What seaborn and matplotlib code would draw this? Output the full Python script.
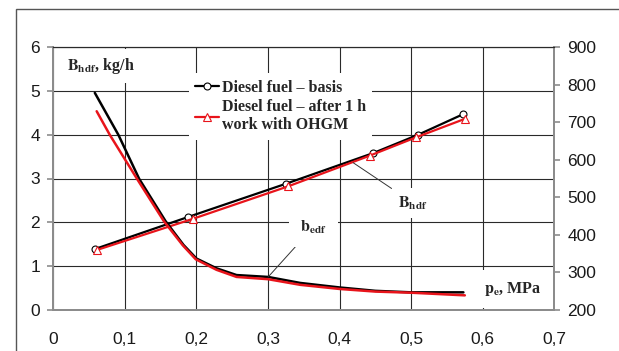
import matplotlib
matplotlib.use('Agg')
import matplotlib.pyplot as plt
import seaborn as sns
from matplotlib.lines import Line2D
from matplotlib.patches import Rectangle

# B_hdf, kg/h (left axis)
pe_basis = [0.058, 0.188, 0.325, 0.447, 0.510, 0.573]
B_basis = [1.39, 2.12, 2.88, 3.58, 4.00, 4.47]
pe_ohgm = [0.061, 0.195, 0.328, 0.442, 0.507, 0.575]
B_ohgm = [1.37, 2.08, 2.82, 3.52, 3.94, 4.36]

# b_edf, g/kWh (right axis)
pe_b_basis = [0.058, 0.091, 0.120, 0.157, 0.182, 0.200, 0.228, 0.256, 0.300, 0.345, 0.400, 0.450, 0.500, 0.573]
b_basis = [778, 666, 549, 436, 373, 337, 311, 293, 288, 272, 260, 251, 247, 247]
pe_b_ohgm = [0.0606, 0.079, 0.117, 0.1546, 0.181, 0.199, 0.228, 0.256, 0.300, 0.345, 0.400, 0.450, 0.500, 0.575]
b_ohgm = [729, 666, 549, 436, 372, 335, 307, 288, 282, 267, 256, 249, 246, 239]

x_ticks = [0, 0.1, 0.2, 0.3, 0.4, 0.5, 0.6, 0.7]
x_labels = ['0', '0,1', '0,2', '0,3', '0,4', '0,5', '0,6', '0,7']
left_ticks = [0, 1, 2, 3, 4, 5, 6]
right_ticks = [200, 300, 400, 500, 600, 700, 800, 900]

sns.set_style('white')
plt.rcParams['font.family'] = ['Liberation Sans', 'DejaVu Sans']
plt.rcParams['mathtext.fontset'] = 'stix'

fig = plt.figure(figsize=(6.19, 3.51), dpi=100)
ax = fig.add_axes([53.3 / 619, 41 / 351, 501 / 619, 263 / 351])
ax2 = ax.twinx()

spine_col = '#8c8c8c'
grid_col = '#2a2a2a'
red = '#e8141b'

# B_hdf lines
sns.lineplot(x=pe_basis, y=B_basis, ax=ax, color='black', linewidth=1.6,
             marker='o', markersize=5, markerfacecolor='white',
             markeredgecolor='black', markeredgewidth=0.8, sort=False)
sns.lineplot(x=pe_ohgm, y=B_ohgm, ax=ax, color=red, linewidth=1.6,
             marker='^', markersize=5.5, markerfacecolor='white',
             markeredgecolor=red, markeredgewidth=0.8, sort=False)

# b_edf lines
sns.lineplot(x=pe_b_basis, y=b_basis, ax=ax2, color='black', linewidth=1.8, sort=False)
sns.lineplot(x=pe_b_ohgm, y=b_ohgm, ax=ax2, color=red, linewidth=1.8, sort=False)

ax.set_xlim(0, 0.7)
ax.set_ylim(0, 6)
ax2.set_ylim(200, 900)
ax.set_xticks(x_ticks)
ax.set_xticklabels(x_labels)
ax.set_yticks(left_ticks)
ax2.set_yticks(right_ticks)

ax.set_axisbelow(True)
ax.grid(True, color=grid_col, linewidth=0.8)
ax2.grid(False)

for a in (ax, ax2):
    for s in ('left', 'bottom', 'right'):
        a.spines[s].set_color(spine_col)
        a.spines[s].set_linewidth(1.4)
    a.spines['top'].set_color(grid_col)
    a.spines['top'].set_linewidth(0.8)

ax.tick_params(axis='x', direction='out', length=4.5, width=1.2, color=spine_col,
               pad=11, labelsize=12.5, labelcolor='#1a1a1a')
ax.tick_params(axis='y', direction='out', length=4.5, width=1.2, color=spine_col,
               pad=5, labelsize=12.5, labelcolor='#1a1a1a')
ax2.tick_params(axis='y', direction='out', length=4.5, width=1.2, color=spine_col,
                pad=5, labelsize=12.5, labelcolor='#1a1a1a')
ax.set_xlabel('')
ax.set_ylabel('')
ax2.set_ylabel('')

lab_font = dict(family='Liberation Serif', weight='bold', size=11.5)

ax2.text(0.019, 5.57, r'$\mathbf{B}_{\mathbf{hdf}}$, kg/h', transform=ax.transData,
         ha='left', va='center', fontdict=lab_font,
         bbox=dict(facecolor='white', edgecolor='none', pad=5))
ax2.text(0.6415, 0.48, r'$\mathbf{p}_{\mathbf{e}}$, MPa', transform=ax.transData,
         ha='center', va='center', fontdict=lab_font,
         bbox=dict(facecolor='white', edgecolor='none', pad=7))
ax2.annotate(r'$\mathbf{b}_{\mathbf{edf}}$', xy=(0.300, 0.75), xycoords=ax.transData,
             xytext=(0.363, 1.89), textcoords=ax.transData,
             ha='center', va='center', fontsize=11.5, family='Liberation Serif',
             weight='bold', bbox=dict(facecolor='white', edgecolor='none', pad=8),
             arrowprops=dict(arrowstyle='-', color='#333333', lw=0.7,
                             shrinkA=0, shrinkB=0))
ax2.annotate(r'$\mathbf{B}_{\mathbf{hdf}}$', xy=(0.419, 3.36), xycoords=ax.transData,
             xytext=(0.503, 2.44), textcoords=ax.transData,
             ha='center', va='center', fontsize=11.5, family='Liberation Serif',
             weight='bold', bbox=dict(facecolor='white', edgecolor='none', pad=5),
             arrowprops=dict(arrowstyle='-', color='#333333', lw=0.7,
                             shrinkA=0, shrinkB=0))

handles = [
    Line2D([], [], color='black', linewidth=1.6, marker='o', markersize=5,
           markerfacecolor='white', markeredgecolor='black', markeredgewidth=0.8),
    Line2D([], [], color=red, linewidth=1.6, marker='^', markersize=5.5,
           markerfacecolor='white', markeredgecolor=red, markeredgewidth=0.8),
]
labels = ['Diesel fuel – basis', 'Diesel fuel – after 1 h\nwork with OHGM']
leg = ax2.legend(handles, labels, loc='upper left', bbox_to_anchor=(0.255, 0.93),
                 frameon=True, fancybox=False, framealpha=1, edgecolor='white',
                 facecolor='white', handlelength=1.5, handletextpad=0.15,
                 labelspacing=0.2, borderpad=0.4,
                 prop=dict(family='Liberation Serif', weight='bold', size=11.5))
leg.get_frame().set_linewidth(0)

fig.add_artist(Rectangle((16 / 619, -0.1), 1.2, (351 - 9) / 351 + 0.1,
                         transform=fig.transFigure, fill=False,
                         edgecolor='#555555', linewidth=1.0))

fig.savefig('out.png', dpi=100, facecolor='white')
